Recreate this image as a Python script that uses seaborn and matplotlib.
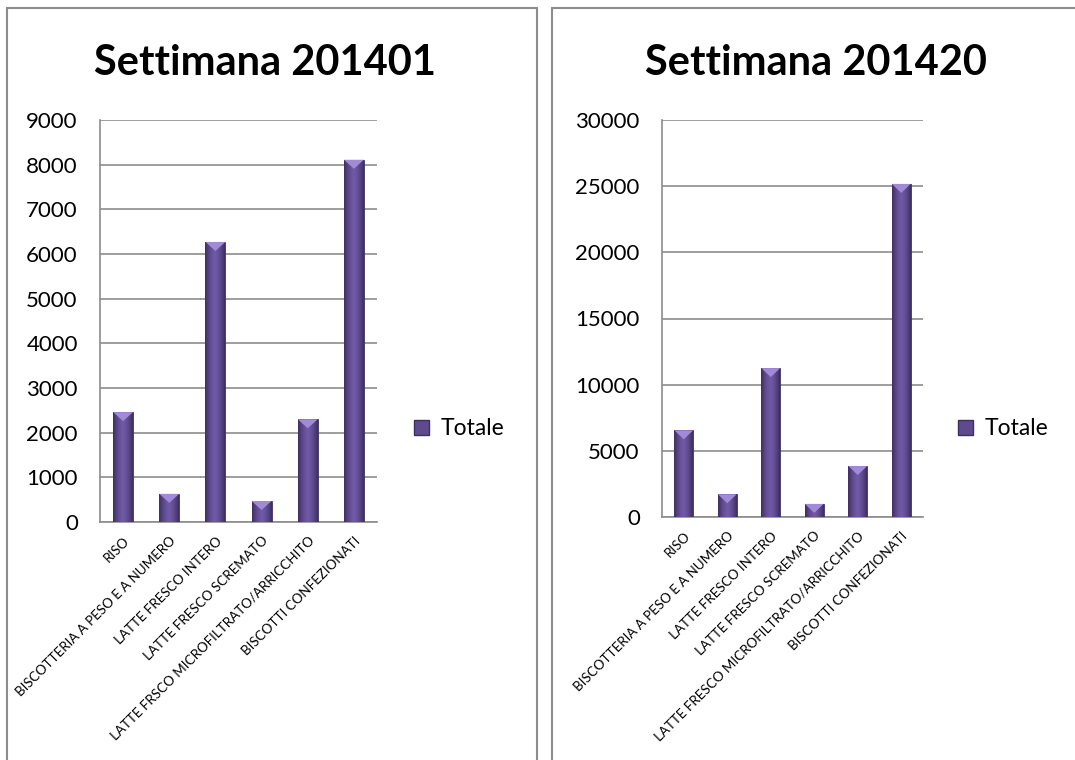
import seaborn as sns
import matplotlib.pyplot as plt
from matplotlib.patches import Rectangle, Patch, Polygon
import pandas as pd
import numpy as np

# categories for each week
cats_01 = ["RISO", "BISCOTTERIA A PESO E A NUMERO", "LATTE FRESCO INTERO",
           "LATTE FRESCO SCREMATO", "LATTE FRSCO MICROFILTRATO/ARRICCHITO",
           "BISCOTTI CONFEZIONATI"]
cats_20 = ["RISO", "BISCOTTERIA A PESO E A NUMERO", "LATTE FRESCO INTERO",
           "LATTE FRESCO SCREMATO", "LATTE FRESCO MICROFILTRATO/ARRICCHITO",
           "BISCOTTI CONFEZIONATI"]

# Totale
tot_01 = [2460, 630, 6270, 470, 2300, 8110]
tot_20 = [6550, 1720, 11250, 990, 3850, 25170]

yticks_01 = list(range(0, 9001, 1000))
yticks_20 = list(range(0, 30001, 5000))

W, H = 1075, 760
bar_color = "#5e4a8c"
grid_c = "#8c8c8c"

sns.set_style("white")
plt.rcParams['font.family'] = ['Lato', 'DejaVu Sans']
plt.rcParams['text.color'] = 'black'
plt.rcParams['xtick.color'] = 'black'
plt.rcParams['ytick.color'] = 'black'

fig = plt.figure(figsize=(W / 100, H / 100), dpi=100)

# panel borders
fig.add_artist(Rectangle((7 / W, -0.01), 530 / W, 1 - 8 / H + 0.01, transform=fig.transFigure,
                         fill=False, edgecolor="#8c8c8c", linewidth=1.5))
fig.add_artist(Rectangle((552 / W, -0.01), 540 / W, 1 - 8 / H + 0.01, transform=fig.transFigure,
                         fill=False, edgecolor="#8c8c8c", linewidth=1.5))

panels = [
    ("Settimana 201401", cats_01, tot_01, yticks_01, (100, 120, 377, 522), 265, 0.232),
    ("Settimana 201420", cats_20, tot_20, yticks_20, (662, 120, 923, 517), 816, 0.222),
]

# horizontal shading for the bars (dark edges, lighter middle)
shade = np.abs(np.linspace(-1, 1, 64))
grad = np.vstack([1 - shade ** 1.5] * 2)
cmap = plt.matplotlib.colors.LinearSegmentedColormap.from_list("p", ["#3e2f60", "#7059a6"])

for title, cats, vals, yt, (x0, y0, x1, y1), tx, leg_y in panels:
    ax = fig.add_axes([x0 / W, 1 - y1 / H, (x1 - x0) / W, (y1 - y0) / H])
    df = pd.DataFrame({"cat": cats, "Totale": vals})
    sns.barplot(data=df, x="cat", y="Totale", ax=ax, color=bar_color, width=0.43,
                saturation=1, edgecolor="#3f3060", linewidth=0.6, zorder=3)
    ax.set_ylim(yt[0], yt[-1])
    ax.set_xlim(-0.5, len(cats) - 0.5)

    # bar shading + bevelled top
    px = (yt[-1] - yt[0]) / (y1 - y0)
    for bar in ax.patches:
        bx, by = bar.get_x(), bar.get_y()
        bw, bh = bar.get_width(), bar.get_height()
        im = ax.imshow(grad, extent=(bx, bx + bw, by, by + bh), aspect='auto',
                       cmap=cmap, zorder=3.5, origin='lower')
        im.set_clip_path(bar)
        d = min(9 * px, bh)
        ax.add_patch(Polygon([(bx, by + bh), (bx + bw, by + bh), (bx + bw / 2, by + bh - d)],
                             closed=True, facecolor="#a18bd6", edgecolor='none', zorder=4))
    ax.set_ylim(yt[0], yt[-1])
    ax.set_xlim(-0.5, len(cats) - 0.5)

    ax.set_yticks(yt)
    ax.set_yticklabels([str(v) for v in yt], fontsize=16)
    ax.yaxis.grid(True, color=grid_c, linewidth=1.2, zorder=0)
    ax.tick_params(axis='y', length=7, color=grid_c, width=1.2, pad=9)
    ax.set_xticks(range(len(cats)))
    ax.set_xticklabels(cats, rotation=45, ha='right', rotation_mode='anchor', fontsize=9.6)
    ax.tick_params(axis='x', length=0, pad=9)
    ax.set_xticks(np.arange(-0.5, len(cats)), minor=True)
    ax.tick_params(axis='x', which='minor', length=6, color=grid_c, width=1.2)
    for s in ['top', 'right']:
        ax.spines[s].set_visible(False)
    for s in ['left', 'bottom']:
        ax.spines[s].set_color(grid_c)
        ax.spines[s].set_linewidth(1.2)
    ax.set_axisbelow(True)
    ax.set_xlabel("")
    ax.set_ylabel("")
    ax.legend(handles=[Patch(facecolor=bar_color, edgecolor="#3f3060", label="Totale")],
              loc='center left', bbox_to_anchor=(1.1, leg_y), frameon=False, fontsize=16.5,
              handlelength=0.65, handleheight=0.65, handletextpad=0.5, borderaxespad=0)
    fig.text(tx / W, 1 - 63 / H, title, ha='center', va='center', fontsize=30,
             fontweight='bold', color='black')

plt.savefig("out.png", dpi=100)
plt.close()
